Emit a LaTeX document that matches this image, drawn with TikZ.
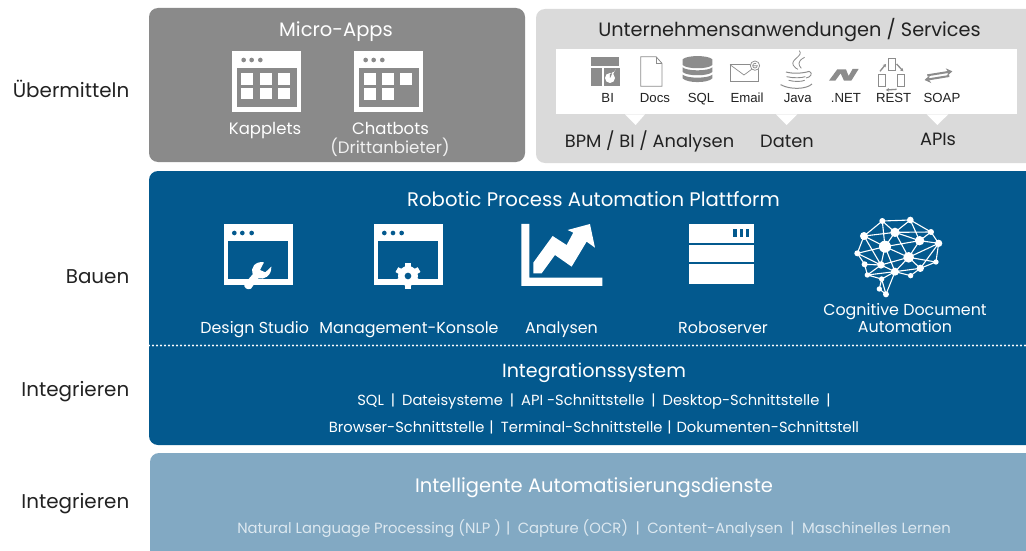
\documentclass[tikz,border=0pt]{standalone}
\usepackage{fontspec}
\usetikzlibrary{arrows.meta}
\setmainfont{Poppins}
\newfontfamily\arialf{Liberation Sans}
\definecolor{navy}{HTML}{03598E}
\definecolor{midgray}{HTML}{8A8A8A}
\definecolor{lightgray}{HTML}{DADADA}
\definecolor{paleblue}{HTML}{82A9C3}
\definecolor{inktext}{HTML}{222222}
\definecolor{icongray}{HTML}{8C8C8C}
\definecolor{palewhite}{HTML}{DCE8F0}
\newcommand{\fs}[1]{\fontsize{#1}{#1}\selectfont}
\tikzset{
 px/.style={x=1pt,y=-1pt},
 zoomed/.style={shift={(#1)},x=0.3333pt,y=-0.3333pt},
 txt/.style={inner sep=0,anchor=base,text=white},
 sidelbl/.style={font=\fs{19.9},text=inktext,inner sep=0,anchor=base east},
 title/.style={txt,font=\fs{19.5}},
 captxt/.style={txt,font=\fs{15.9}},
 listtxt/.style={txt,font=\fs{14.7}},
 ilbl/.style={font=\arialf\fs{13.2},text=inktext,inner sep=0,anchor=base},
 dk/.style={font=\fs{17.8},text=inktext,inner sep=0,anchor=base},
}
\begin{document}
\begin{tikzpicture}[px,line join=miter]
\useasboundingbox (0,0) rectangle (1026,551);
\fill[white] (0,0) rectangle (1026,551);
% panels
\fill[midgray,rounded corners=9pt] (149,8) rectangle (525,162);
\fill[lightgray,rounded corners=9pt] (536,9) rectangle (1045,163);
\fill[navy,rounded corners=9pt] (149,171) rectangle (1045,445);
\fill[paleblue,rounded corners=9pt] (150,453) rectangle (1045,570);
% side labels
\node[sidelbl] (s1) at (129.5,97) {Übermitteln};
\node[sidelbl] (s2) at (129.5,283) {Bauen};
\node[sidelbl] (s3) at (129.5,396) {Integrieren};
\node[sidelbl] (s4) at (129.5,508) {Integrieren};
% Micro apps
\node[title] (t1) at (336,37) {Micro-Apps};
\begin{scope}[zoomed={140,0}]
 \fill[white] (277,153) rectangle (484,335);
 \fill[midgray] (290,204) rectangle (470,320);
 \foreach \x in {311,335,361} \fill[midgray] (\x,180) circle (7);
 \foreach \x in {303,360,415} \foreach \y in {219,263} \fill[white] (\x,\y) rectangle ++(35,35);
 \fill[white] (643,153) rectangle (850,335);
 \fill[midgray] (657,204) rectangle (836,320);
 \foreach \x in {677,701,727} \fill[midgray] (\x,180) circle (7);
 \foreach \x/\y in {672/219,726/219,780/219,672/263,726/263} \fill[white] (\x,\y) rectangle ++(36,36);
\end{scope}
\node[captxt,font=\fs{16.5}] (k1) at (265,134) {Kapplets};
\node[captxt,font=\fs{16.5}] (k2) at (390.5,134) {Chatbots};
\node[captxt,font=\fs{16.6},text=white!88!midgray] (k3) at (390,153) {(Drittanbieter)};
% Enterprise apps
\node[title,font=\fs{19.3},text=inktext] (t2) at (789.5,37) {Unternehmensanwendungen / Services};
\begin{scope}[zoomed={530,0}]
 \fill[white] (78,148) rectangle (1462,343);
 \fill[white] (285,343) -- (345,343) -- (317,375) -- cycle;
 \fill[white] (738,343) -- (802,343) -- (770,375) -- cycle;
 \fill[white] (1190,343) -- (1255,343) -- (1222,375) -- cycle;
 % BI
 \fill[icongray] (183,171) rectangle (267,197);
 \fill[icongray] (183,204) rectangle (216,257);
 \fill[icongray] (222,204) rectangle (270,257);
 \fill[white] (240,234) circle (15);
 \fill[icongray] (240,234) -- (240,222) arc (90:10:12) -- cycle;
 \fill[white] (246,229) -- (246,218) arc (90:0:11) -- cycle;
 % Docs
 \draw[icongray,line width=0.8pt] (332,170) -- (378,170) -- (396,190) -- (396,259) -- (332,259) -- cycle;
 \draw[icongray,line width=0.6pt] (378,170) -- (378,190) -- (396,190);
 % SQL
 \fill[icongray] (458,178) .. controls (470,165) and (535,165) .. (547,178) -- (547,195) .. controls (535,208) and (470,208) .. (458,195) -- cycle;
 \fill[icongray] (458,202) .. controls (470,214) and (535,214) .. (547,202) -- (547,216) .. controls (535,229) and (470,229) .. (458,216) -- cycle;
 \fill[icongray] (458,224) .. controls (470,236) and (535,236) .. (547,224) -- (547,235) .. controls (535,250) and (470,250) .. (458,235) -- cycle;
 % Email
 \draw[icongray,line width=0.7pt] (600,194) rectangle (684,243);
 \draw[icongray,line width=0.7pt] (600,194) -- (642,225) -- (684,194);
 \fill[white] (675,197) circle (15);
 \draw[icongray,line width=0.7pt] (675,197) circle (14);
 \draw[icongray,line width=0.7pt] (668,197) -- (682,197) arc (0:300:7);
 % Java
 \draw[icongray,line width=0.8pt] (808,152) .. controls (822,168) and (780,178) .. (790,196) .. controls (795,204) and (800,206) .. (804,208);
 \draw[icongray,line width=0.8pt] (824,172) .. controls (800,184) and (806,196) .. (814,205);
 \draw[icongray,line width=1pt] (768,216) .. controls (790,222) and (820,220) .. (838,214);
 \draw[icongray,line width=0.9pt] (838,214) .. controls (850,220) and (842,232) .. (828,234);
 \draw[icongray,line width=0.9pt] (770,230) .. controls (790,235) and (815,234) .. (826,230);
 \draw[icongray,line width=0.9pt] (776,241) .. controls (795,246) and (815,245) .. (824,241);
 \draw[icongray,line width=1pt] (752,254) .. controls (780,270) and (830,268) .. (846,252);
 % NET
 \fill[icongray] (897,242) -- (922,208) -- (948,208) -- (956,228) -- (968,207) -- (986,207) -- (964,242) -- (942,242) -- (932,220) -- (916,242) -- cycle;
 % REST
 \foreach \x/\y in {1075/176,1045/224,1103/224} \draw[icongray,line width=0.9pt] (\x,\y) rectangle ++(20,35);
 \draw[icongray,line width=1.3pt,-{Stealth[length=3pt,width=3.5pt]}] (1050,214) -- (1068,192);
 \draw[icongray,line width=1.3pt,-{Stealth[length=3pt,width=3.5pt]}] (1100,192) -- (1120,214);
 \draw[icongray,line width=1.3pt,-{Stealth[length=3pt,width=3.5pt]}] (1100,268) -- (1068,270);
 % SOAP
 \draw[icongray,line width=2pt,-{Stealth[length=6pt,width=8pt]}] (1192,226) -- (1267,214);
 \draw[icongray,line width=2pt,-{Stealth[length=6pt,width=8pt]}] (1258,228) -- (1184,240);
\end{scope}
\node[ilbl] (l1) at (607.7,102.5) {BI};
\node[ilbl] (l2) at (655,102.5) {Docs};
\node[ilbl] (l3) at (701,102.5) {SQL};
\node[ilbl] (l4) at (747,102.5) {Email};
\node[ilbl] (l5) at (797.7,102.5) {Java};
\node[ilbl] (l6) at (846,102.5) {.NET};
\node[ilbl] (l7) at (893.7,102.5) {REST};
\node[ilbl] (l8) at (942,102.5) {SOAP};
\node[dk] (b1) at (649.5,147) {BPM / BI / Analysen};
\node[dk] (b2) at (787,147) {Daten};
\node[dk] (b3) at (938,145) {APIs};
% RPA
\node[title,font=\fs{19.65}] (t3) at (593.5,206) {Robotic Process Automation Plattform};
\begin{scope}[zoomed={190,210}]
 % Design studio window
 \fill[white] (102,42) rectangle (308,225);
 \fill[navy] (115,93) rectangle (293,208);
 \foreach \x in {133,157,185} \fill[navy] (\x,69) circle (7);
 % wrench
 \fill[white] (163,222) .. controls (160,232) and (172,242) .. (183,236) -- (205,205) .. controls (222,210) and (245,198) .. (244,170) -- (226,187) -- (210,180) -- (222,157) .. controls (195,152) and (180,175) .. (188,193) -- cycle;
 % Mgmt window
 \fill[white] (551,42) rectangle (758,225);
 \fill[navy] (564,93) rectangle (743,208);
 \foreach \x in {583,609,635} \fill[navy] (\x,69) circle (7);
 \foreach \a in {0,60,...,300} \fill[white,rotate around={\a:(654,198)}] (646,160) rectangle (662,236);
 \fill[white] (654,198) circle (30);
 \fill[navy] (654,198) circle (10);
 % Chart
 \fill[white] (994,42) -- (1018,42) -- (1018,203) -- (1237,203) -- (1237,228) -- (994,228) -- cycle;
 \fill[white] (1030,158) -- (1088,78) -- (1130,105) -- (1150,68) -- (1133,60) -- (1200,42) -- (1215,113) -- (1190,95) -- (1145,170) -- (1095,135) -- (1055,190) -- (1030,190) -- cycle;
\end{scope}
\node[captxt] (d1) at (254.7,333) {Design Studio};
\node[captxt] (d2) at (409,333) {Management-Konsole};
\node[captxt] (d3) at (561.5,333) {Analysen};
\node[captxt] (d4) at (723,333) {Roboserver};
\node[captxt] (d5) at (905,315) {Cognitive Document};
\node[captxt] (d6) at (905,332) {Automation};
\begin{scope}[zoomed={660,210}]
 \fill[white] (88,41) rectangle (281,98);
 \fill[white] (88,104) rectangle (281,157);
 \fill[white] (88,163) rectangle (281,222);
 \foreach \x in {220,240,258} \fill[navy] (\x,58) rectangle ++(10,24);
 % brain
 \coordinate (a) at (667,33); \coordinate (b) at (751,30); \coordinate (c) at (612,78);
 \coordinate (d) at (705,67); \coordinate (e) at (813,66); \coordinate (f) at (779,92);
 \coordinate (g) at (836,100); \coordinate (h) at (675,110); \coordinate (i) at (592,130);
 \coordinate (j) at (746,142); \coordinate (k) at (614,163); \coordinate (l) at (663,165);
 \coordinate (m) at (828,156); \coordinate (n) at (781,175); \coordinate (o) at (705,185);
 \coordinate (p) at (622,195); \coordinate (q) at (752,197); \coordinate (r) at (665,207);
 \coordinate (s) at (658,237); \coordinate (t) at (678,253);
 \draw[white,line width=1.1pt] (c)--(a)--(b)--(e)--(g)--(m)--(n)--(q)--(o)--(r)--(p)--(k)--(i)--(c)
  (a)--(d)--(b) (c)--(d) (d)--(e) (d)--(f)--(e) (f)--(g) (b)--(f) (c)--(h) (a)--(h) (d)--(h)
  (h)--(f) (h)--(j) (d)--(j) (f)--(j) (j)--(g) (j)--(m) (j)--(n) (g)--(n)
  (h)--(i) (h)--(l) (c)--(l) (i)--(l) (i)--(k) (k)--(l) (l)--(p) (l)--(j) (l)--(o) (o)--(j) (o)--(n)
  (h)--(o) (p)--(o) (n)--(o) (r)--(s)--(t)--(o) (r)--(t);
 \foreach \p/\r in {a/9,b/10,c/12,d/14,e/9,f/14,g/11,h/18,i/9,j/16,k/9,l/11,m/8,n/11,o/12,p/8,q/8,r/8,s/8,t/9}
  \fill[white] (\p) circle (\r);
\end{scope}
% dotted
\coordinate (dl) at (149,345.5); \coordinate (dr) at (1026,345.5);
\draw[white,line width=2.4pt,line cap=round,dash pattern=on 0pt off 4pt] (dl) -- (dr);
% Integration
\node[title,font=\fs{19.1}] (t4) at (594,377) {Integrationssystem};
\node[listtxt] (i1) at (594,405) {SQL\hspace{7pt}|\hspace{7pt}Dateisysteme\hspace{7pt}|\hspace{7pt}API -Schnittstelle\hspace{7pt}|\hspace{7pt}Desktop-Schnittstelle\hspace{7pt}|};
\node[listtxt] (i2) at (594,432) {Browser-Schnittstelle\,\,|\,\,\,Terminal-Schnittstelle\,\,|\,\,Dokumenten-Schnittstell};
% Intelligent
\node[title] (t5) at (594,492) {Intelligente Automatisierungsdienste};
\node[listtxt,font=\fs{14.8},text=palewhite] (j1) at (594,533) {Natural Language Processing (NLP )\,\,|\,\,\,Capture (OCR)\,\,\,|\,\,\,Content-Analysen\,\,\,|\,\,\,Maschinelles Lernen};
\end{tikzpicture}
\end{document}
